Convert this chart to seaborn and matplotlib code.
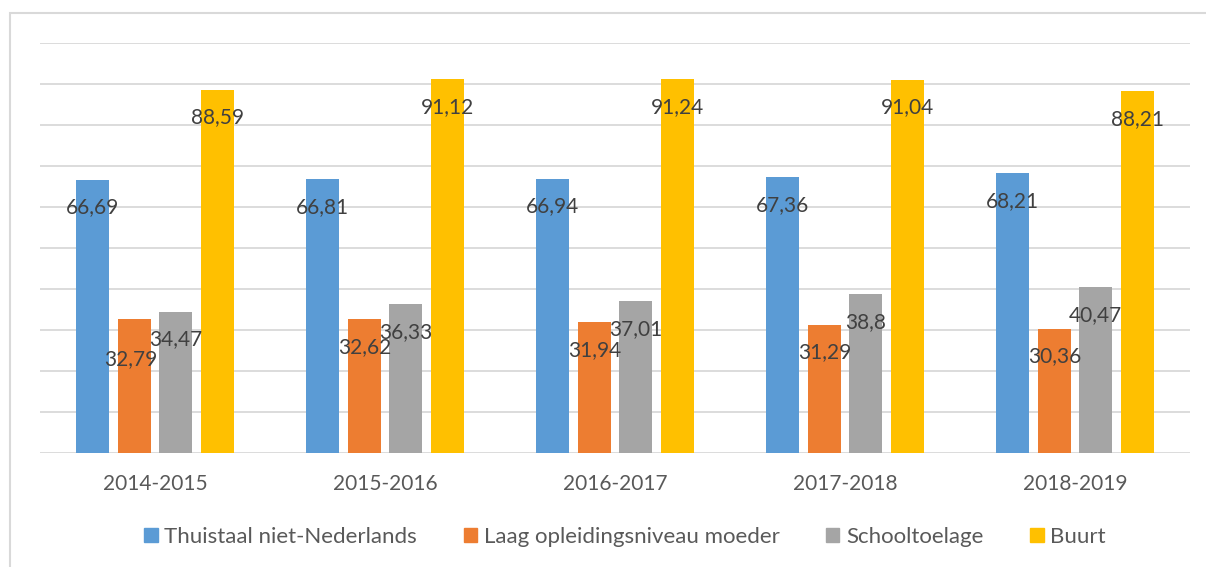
import pandas as pd
import matplotlib.pyplot as plt
import seaborn as sns
from matplotlib.patches import Rectangle

# Data
jaren = ['2014-2015', '2015-2016', '2016-2017', '2017-2018', '2018-2019']
thuistaal = [66.69, 66.81, 66.94, 67.36, 68.21]
laag_opleiding = [32.79, 32.62, 31.94, 31.29, 30.36]
schooltoelage = [34.47, 36.33, 37.01, 38.8, 40.47]
buurt = [88.59, 91.12, 91.24, 91.04, 88.21]

reeksen = ['Thuistaal niet-Nederlands', 'Laag opleidingsniveau moeder', 'Schooltoelage', 'Buurt']
kleuren = ['#5B9BD5', '#ED7D31', '#A5A5A5', '#FFC000']

df = pd.DataFrame({
    'jaar': jaren * 4,
    'reeks': [r for r in reeksen for _ in jaren],
    'waarde': thuistaal + laag_opleiding + schooltoelage + buurt,
})

sns.set_theme(style='white')
plt.rcParams['font.family'] = ['Lato', 'DejaVu Sans']

fig = plt.figure(figsize=(12.06, 5.67), dpi=100)
ax = fig.add_axes([40 / 1206, 1 - 453 / 567, 1150 / 1206, 410 / 567])

sns.barplot(data=df, x='jaar', y='waarde', hue='reeks', hue_order=reeksen,
            palette=kleuren, saturation=1, width=0.72, gap=0.2, linewidth=0, ax=ax,
            legend=False, zorder=3)

ax.set_ylim(0, 100)
ax.set_xlim(-0.5, 4.5)
ax.set_yticks(range(0, 101, 10))
ax.set_yticklabels([])
ax.yaxis.grid(True, color='#d9d9d9', linewidth=1.3, zorder=0)
ax.set_axisbelow(True)
for s in ax.spines.values():
    s.set_visible(False)
ax.set_xlabel('')
ax.set_ylabel('')
ax.tick_params(axis='x', length=0, pad=15, labelsize=15, labelcolor='#595959')
ax.tick_params(axis='y', length=0)

# datalabels (Excel verschuift er eentje om overlap te vermijden)
verschuiving = {(1, 0): (-2.5, -29.5)}
alle_waarden = [thuistaal, laag_opleiding, schooltoelage, buurt]
for i, (cont, vals) in enumerate(zip(ax.containers, alle_waarden)):
    for j, (bar, v) in enumerate(zip(cont, vals)):
        dx, dy = verschuiving.get((i, j), (0, -20))
        ax.annotate(f"{v:g}".replace('.', ','),
                    (bar.get_x() + bar.get_width() / 2, bar.get_height()),
                    xytext=(dx, dy), textcoords='offset points',
                    ha='center', va='center', fontsize=15, color='#404040', zorder=5)

# legenda
handles = [Rectangle((0, 0), 1, 1, color=k) for k in kleuren]
fig.legend(handles, reeksen, loc='center', bbox_to_anchor=(625 / 1206, 1 - 537 / 567),
           ncol=4, frameon=False, fontsize=16, labelcolor='#595959',
           handlelength=0.6, handleheight=0.6, handletextpad=0.3, columnspacing=2.1)

# kader rond de grafiek
fig.patches.append(Rectangle((10 / 1206, -0.1), 1.2, 1.1 - 13 / 567, transform=fig.transFigure,
                             fill=False, edgecolor='#d9d9d9', linewidth=1.5))

fig.savefig('out.png', dpi=100)
